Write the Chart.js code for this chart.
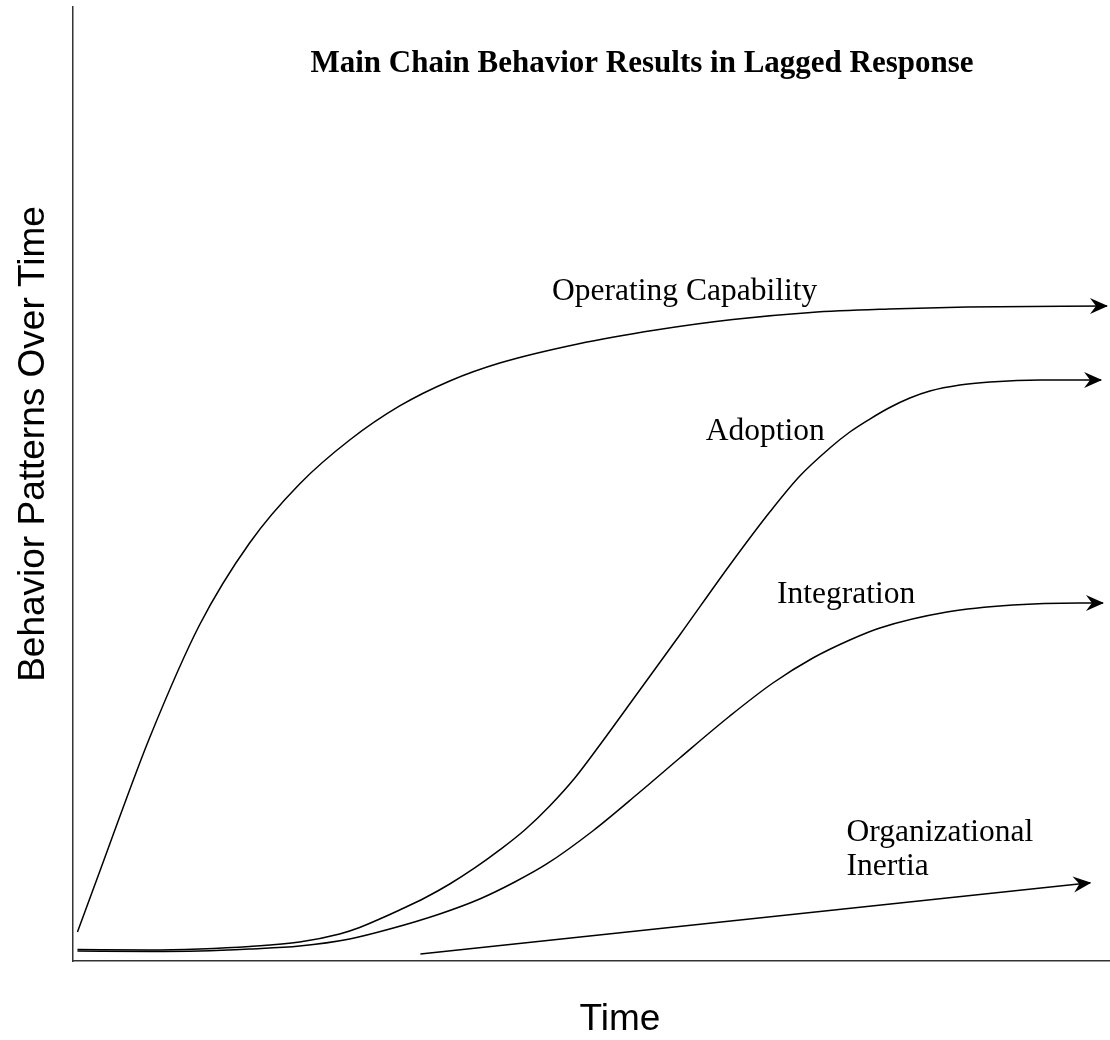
<!DOCTYPE html>
<html><head><meta charset="utf-8">
<script src="https://cdn.jsdelivr.net/npm/chart.js@4/dist/chart.umd.min.js"></script>
<style>html,body{margin:0;padding:0;background:#fff;}#wrap{width:1110px;height:1040px;}</style>
</head><body><div id="wrap"><canvas id="c" width="1110" height="1040"></canvas></div>
<script>
// Time axis 0..100, behaviour level 0..100
const opTime  = [0.43, 2.56, 4.39, 7.38, 12.2, 17.03, 21.85, 26.68, 31.5, 36.33, 41.15, 48.68, 56.2, 63.63, 71.15, 78.68, 86.21, 99.71];
const opLevel = [3.04, 9.33, 14.78, 23.38, 35.22, 43.82, 50.0, 54.61, 58.18, 60.8, 62.68, 64.68, 66.14, 67.24, 67.98, 68.34, 68.55, 68.66];

const adTime  = [0.43, 7.38, 12.2, 17.03, 21.85, 25.71, 27.64, 29.57, 31.5, 33.91, 36.33, 38.74, 41.15, 43.56, 45.97, 48.39, 50.8, 54.66, 58.51, 63.34, 67.19, 70.09, 72.98, 74.91, 76.84, 78.67, 80.7, 82.63, 85.52, 88.42, 93.25, 99.14];
const adLevel = [1.21, 1.15, 1.26, 1.52, 1.99, 2.83, 3.51, 4.4, 5.35, 6.6, 8.07, 9.75, 11.64, 13.73, 16.25, 19.18, 22.64, 28.41, 34.17, 41.51, 47.06, 50.84, 53.77, 55.45, 56.81, 57.97, 59.01, 59.75, 60.38, 60.69, 60.9, 60.9];

const inTime  = [0.43, 7.38, 12.2, 17.03, 21.85, 26.68, 30.54, 35.36, 39.22, 42.6, 45.68, 50.12, 54.66, 58.51, 63.34, 67.49, 71.35, 74.91, 77.81, 84.27, 90.64, 97.1, 99.32];
const inLevel = [1.05, 1.0, 1.05, 1.26, 1.57, 2.31, 3.35, 4.93, 6.5, 8.28, 10.17, 13.63, 17.71, 21.28, 25.68, 29.14, 31.76, 33.65, 34.91, 36.58, 37.32, 37.53, 37.53];

const orgTime  = [33.5, 98.1];
const orgLevel = [0.73, 8.2];

const seriesNames = ['Operating Capability', 'Adoption', 'Integration', 'Organizational Inertia'];
const titleText = 'Main Chain Behavior Results in Lagged Response';
const xTitle = 'Time';
const yTitle = 'Behavior Patterns Over Time';

// label anchors (data units): time, level
const labelAnchors = [
  {lines: ['Operating Capability'], t: 46.2, v: 69.29},
  {lines: ['Adoption'], t: 61.02, v: 54.61},
  {lines: ['Integration'], t: 67.9, v: 37.5},
  {lines: ['Organizational', 'Inertia'], t: 74.6, v: 12.58}
];

function pts(xs, ys){ return xs.map((x,i)=>({x:x, y:ys[i]})); }

const ds = (name, xs, ys, curved) => ({
  label: name, data: pts(xs, ys), borderColor: '#000', borderWidth: 1.5,
  pointRadius: 0, fill: false, tension: curved ? 0.4 : 0,
  cubicInterpolationMode: curved ? 'monotone' : 'default'
});

const overlay = {
  id: 'overlay',
  afterDatasetsDraw(chart){
    const ctx = chart.ctx, xs = chart.scales.x, ys = chart.scales.y;
    ctx.save();
    ctx.fillStyle = '#000';
    chart.data.datasets.forEach(d => {
      const n = d.data.length;
      const p1 = d.data[n-1], p0 = d.data[n-2];
      const x1 = xs.getPixelForValue(p1.x), y1 = ys.getPixelForValue(p1.y);
      const x0 = xs.getPixelForValue(p0.x), y0 = ys.getPixelForValue(p0.y);
      const a = Math.atan2(y1-y0, x1-x0);
      ctx.save();
      ctx.translate(x1, y1); ctx.rotate(a);
      ctx.beginPath();
      ctx.moveTo(1,0);
      ctx.lineTo(-17,-8);
      ctx.lineTo(-11,0);
      ctx.lineTo(-17,8);
      ctx.closePath();
      ctx.fill();
      ctx.restore();
    });
    ctx.font = '31.5px "Liberation Serif", "Times New Roman", serif';
    ctx.textAlign = 'left'; ctx.textBaseline = 'alphabetic';
    labelAnchors.forEach(l => {
      const x = xs.getPixelForValue(l.t), y = ys.getPixelForValue(l.v);
      l.lines.forEach((s,i) => ctx.fillText(s, x, y + i*34));
    });
    ctx.restore();
  },
  afterDraw(chart){
    const ctx = chart.ctx;
    ctx.save();
    ctx.fillStyle = '#000';
    ctx.font = 'bold 31px "Liberation Serif", "Times New Roman", serif';
    ctx.textAlign = 'center'; ctx.textBaseline = 'alphabetic';
    ctx.fillText(titleText, 642, 72);
    ctx.font = '37px "Liberation Sans", Arial, sans-serif';
    ctx.fillText(xTitle, 620, 1030);
    ctx.translate(43.5, 444); ctx.rotate(-Math.PI/2);
    ctx.fillText(yTitle, 0, 0);
    ctx.restore();
  }
};

new Chart(document.getElementById('c'), {
  type: 'line',
  data: { datasets: [
    ds(seriesNames[0], opTime, opLevel, true),
    ds(seriesNames[1], adTime, adLevel, true),
    ds(seriesNames[2], inTime, inLevel, true),
    ds(seriesNames[3], orgTime, orgLevel, false)
  ]},
  options: {
    responsive: false, animation: false, devicePixelRatio: 1,
    layout: { padding: { left: 73, top: 7, right: 0, bottom: 79 } },
    plugins: { legend: {display:false}, tooltip: {enabled:false}, title: {display:false} },
    scales: {
      x: { type: 'linear', min: 0, max: 100,
           ticks: {display:false}, grid: {display:false, drawTicks:false},
           border: {display:true, color:'#333', width:1.5} },
      y: { type: 'linear', min: 0, max: 100,
           ticks: {display:false}, grid: {display:false, drawTicks:false},
           border: {display:true, color:'#333', width:1.5} }
    }
  },
  plugins: [overlay]
});
</script>
</body></html>
